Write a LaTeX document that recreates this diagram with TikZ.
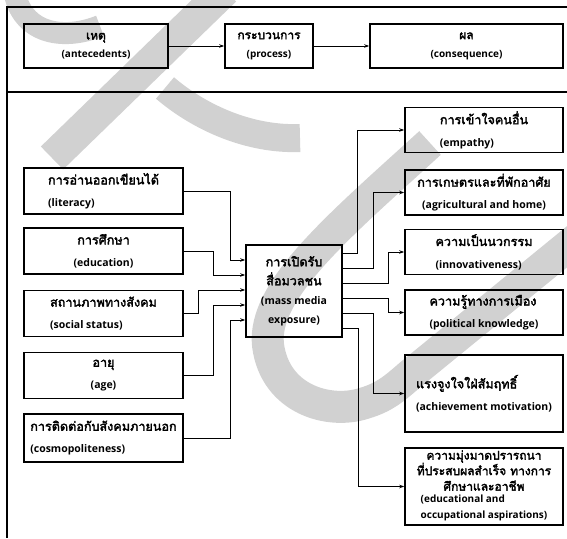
\documentclass[tikz,border=0pt]{standalone}
\usepackage{fontspec}
\setmainfont{Open Sans}
\newfontfamily\thaifont[Script=Thai,AutoFakeBold=2.5,Scale=1.2]{Loma}
\usetikzlibrary{arrows.meta}

\begin{document}
\begin{tikzpicture}[
    x=1pt, y=-1pt,
    box/.style={
        draw,
        line width=1.6pt,
        align=center,
        inner sep=2pt,
        font=\fontsize{10.5}{22}\selectfont\bfseries
    },
    headbox/.style={
        box,
        minimum height=44pt,
        font=\fontsize{10}{18}\selectfont\bfseries
    },
    leftbox/.style={box, minimum width=159pt, minimum height=46pt},
    rightbox/.style={box, minimum width=158pt, minimum height=45pt},
    arrow/.style={-{Stealth[length=5pt,width=3.5pt]}, line width=1pt},
    frame/.style={line width=1.8pt},
    watermark/.style={black!18, line width=32pt}
]
\useasboundingbox (0,0) rectangle (567,538);

% watermark behind the diagram
\begin{scope}
    \clip (0,0) rectangle (567,538);
    \draw[watermark, line width=22pt] (15,-5) .. controls (25,35) and (65,40) .. (100,26);
    \draw[watermark] (52,158) -- (225,-10);
    \draw[watermark, line width=28pt] (165,88) .. controls (200,118) and (250,140) .. (300,138);
    \draw[watermark] (430,143) .. controls (340,225) and (262,290) .. (268,345)
        .. controls (275,400) and (330,415) .. (365,403)
        .. controls (385,397) and (395,388) .. (410,375) -- (590,228);
\end{scope}

% outer frame
\draw[frame] (567,7) -- (7,7) -- (7,538);
\draw[frame] (7,92) -- (567,92);

% header row
\node[headbox, minimum width=144pt] (cause) at (96,46) {{\thaifont เหตุ}\\(antecedents)};
\node[headbox, minimum width=88pt] (process) at (269,46) {{\thaifont กระบวนการ}\\(process)};
\node[headbox, minimum width=193pt] (result) at (466.5,46) {{\thaifont ผล}\\(consequence)};

\draw[arrow] (cause) -- (process);
\draw[arrow] (process) -- (result);

% antecedents
\node[leftbox, align=left] (literacy) at (103.5,191) {{\thaifont การอ่านออกเขียนได้}\\(literacy)};
\node[leftbox] (education) at (103.5,251) {{\thaifont การศึกษา}\\(education)};
\node[leftbox, align=left] (social) at (103.5,313.5) {{\thaifont สถานภาพทางสังคม}\\(social status)};
\node[leftbox] (age) at (103.5,375.5) {{\thaifont อายุ}\\(age)};
\node[leftbox, align=left, minimum height=48pt] (cosmo) at (103.5,438) {{\thaifont การติดต่อกับสังคมภายนอก}\\(cosmopoliteness)};

% process
\node[box, minimum width=96pt, minimum height=92pt, font=\fontsize{10.5}{19}\selectfont\bfseries]
    (media) at (294,291) {{\thaifont การเปิดรับ}\\{\thaifont สื่อมวลชน}\\(mass media\\exposure)};

% consequences
\node[rightbox, align=left] (empathy) at (484,130) {{\thaifont การเข้าใจคนอื่น}\\(empathy)};
\node[rightbox] (farming) at (484,192.5) {{\thaifont การเกษตรและที่พักอาศัย}\\(agricultural and home)};
\node[rightbox, align=left] (innov) at (484,252) {{\thaifont ความเป็นนวกรรม}\\(innovativeness)};
\node[rightbox, align=left] (politics) at (484,312.5) {{\thaifont ความรู้ทางการเมือง}\\(political knowledge)};
\node[rightbox, align=left, minimum height=77pt] (achieve) at (484,393.5) {{\thaifont แรงจูงใจใฝ่สัมฤทธิ์}\\(achievement motivation)};
\node[rightbox, minimum height=77pt, font=\fontsize{10}{15.5}\selectfont\bfseries]
    (aspire) at (484,486.5) {{\thaifont ความมุ่งมาดปรารถนา}\\{\thaifont ที่ประสบผลสำเร็จ ทางการ}\\{\thaifont ศึกษาและอาชีพ}\\
    \begin{tabular}{@{}l@{}}(educational and\\occupational aspirations)\end{tabular}};

% antecedents into exposure
\draw[arrow] (literacy.east) -- (230,191) |- (media.west |- 0,260);
\draw[arrow] (education.east) -- (213,251) |- (media.west |- 0,275);
\draw[arrow] (social.east) -- (198,313.5) |- (media.west |- 0,290);
\draw[arrow] (age.east) -- (213,375.5) |- (media.west |- 0,305);
\draw[arrow] (cosmo.east) -- (230,438) |- (media.west |- 0,320);

% exposure into consequences
\draw[arrow] (media.east |- 0,253) -- (357,253) |- (empathy.west);
\draw[arrow] (media.east |- 0,268) -- (373,268) |- (farming.west);
\draw[arrow] (media.east |- 0,283) -- (388,283) |- (innov.west);
\draw[arrow] (media.east |- 0,298) -- (388,298) |- (politics.west);
\draw[arrow] (media.east |- 0,313) -- (373,313) |- (achieve.west);
\draw[arrow] (media.east |- 0,328) -- (358,328) |- (aspire.west);

\end{tikzpicture}
\end{document}
